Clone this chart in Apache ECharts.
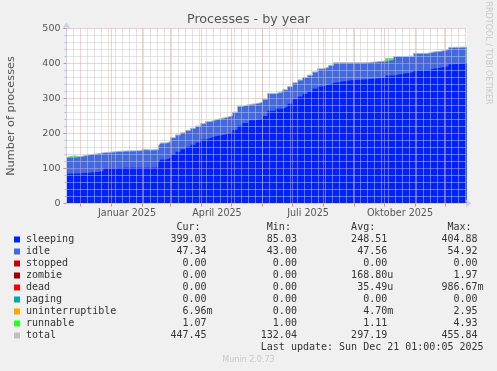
<!DOCTYPE html>
<html><head><meta charset="utf-8">
<script src="https://cdn.jsdelivr.net/npm/echarts@6/dist/echarts.min.js"></script>
<style>html,body{margin:0;padding:0;background:#f0f0f0}#c{width:497px;height:371px}</style>
</head><body><div id="c"></div>
<script>
// day index (x) of each step, and the values that hold from that day on
const days =     [1, 3, 9, 15, 23, 30, 38, 43, 50, 60, 75, 78, 85, 93, 95, 101, 105, 110, 115, 120, 125, 130, 135, 140, 145, 150, 155, 161, 167, 172, 177, 183, 190, 197, 202, 210, 217, 222, 227, 232, 237, 242, 247, 252, 257, 263, 268, 275, 285, 300, 312, 320, 328, 338, 348, 362, 368, 375, 383, 387, 401];
const sleeping = [85, 86, 86, 88, 89, 92, 100, 101, 102, 102, 102, 102, 103, 118, 126, 130, 140, 148, 155, 162, 168, 174, 183, 187, 192, 194, 198, 203, 210, 222, 230, 238, 242, 250, 265, 271, 276, 285, 298, 306, 313, 320, 328, 334, 339, 344, 348, 352, 354, 357, 359, 366, 371, 375, 381, 385, 388, 392, 398, 400, 399.03];
const idle =     [46, 45, 47, 50, 51, 52, 45, 46, 47, 48, 50, 50, 50, 45, 46, 46, 47, 47, 46, 46, 46, 46, 44, 46, 46, 46, 47, 47, 50, 55, 50, 46, 46, 47, 48, 47, 48, 48, 46, 46, 46, 46, 47, 50, 49, 50, 53, 49, 47, 47, 47, 44, 48, 45, 47, 47, 46, 47, 47, 46, 47.34];
const runnable = [1, 4.9, 1, 1, 1, 1, 1, 1, 1, 1, 3, 1, 1, 1, 1, 1, 1, 1, 1, 1, 1, 1, 1, 1, 1, 2.5, 1, 1, 1, 1, 2, 1, 1, 1, 1, 1, 1, 1, 1, 1, 1, 1, 1, 1, 1, 1, 1, 1, 1, 1, 1, 4, 1, 1, 1, 1, 1, 1, 1, 1, 1.07];

// axis ticks / grid (days on x, processes on y)
const monthStarts = [15, 46, 77, 105, 136, 166, 197, 227, 258, 289, 319, 350, 380];
const weekDays = [1, 8, 22, 29, 36, 43, 50, 57, 64, 71, 78, 85, 92, 99, 106, 113, 120, 127, 134, 141, 148, 155, 162, 169, 176, 183, 190, 197, 204, 211, 218, 225, 232, 239, 246, 253, 260, 267, 274, 281, 288, 295, 302, 309, 316, 323, 330, 337, 344, 351, 358, 365, 372, 379, 386, 393, 400];
const labelDays = [61.5, 151.5, 242.5, 334.5];
const labelTexts = ['Januar 2025', 'April 2025', 'Juli 2025', 'Oktober 2025'];
const yMajor = [0, 100, 200, 300, 400, 500];
const yMinor = [20, 40, 60, 80, 120, 140, 160, 180, 220, 240, 260, 280, 320, 340, 360, 380, 420, 440, 460, 480];

// legend table
const legNames = ['sleeping', 'idle', 'stopped', 'zombie', 'dead', 'paging', 'uninterruptible', 'runnable', 'total'];
const legColors = ['#0022ff', '#4169e1', '#cc0000', '#990000', '#ff0000', '#00aaaa', '#ffa500', '#22ff22', '#c0c0c0'];
const curVals = ['399.03', '47.34', '0.00', '0.00', '0.00', '0.00', '6.96m', '1.07', '447.45'];
const minVals = ['85.03', '43.00', '0.00', '0.00', '0.00', '0.00', '0.00', '1.00', '132.04'];
const avgVals = ['248.51', '47.56', '0.00', '168.80u', '35.49u', '0.00', '4.70m', '1.11', '297.19'];
const maxVals = ['404.88', '54.92', '0.00', '1.97', '986.67m', '0.00', '2.95', '4.93', '455.84'];
const lastUpdate = 'Last update: Sun Dec 21 01:00:05 2025';

// cumulative tops of the stack (sleeping, +idle, +runnable)
const topSleeping = days.map((d, i) => [d, sleeping[i]]);
const topIdle = days.map((d, i) => [d, sleeping[i] + idle[i]]);
const topRunnable = days.map((d, i) => [d, sleeping[i] + idle[i] + runnable[i]]);

function fmt(s) {
  const last = s[s.length - 1];
  if (/[a-z]/i.test(last)) return s.slice(0, -1).padStart(6) + last;
  return s.padStart(6) + ' ';
}
const sp = n => ' '.repeat(n);

const sans = 'DejaVu Sans';
const legX = 26;
const rowY0 = 239.5, rowH = 12;
const monoFont = '10px "DejaVu Sans Mono"';

const graphics = [];
graphics.push({type: 'text', x: 248.5, y: 20, style: {text: 'Processes - by year', font: '12.7px "DejaVu Sans"', fill: '#555', align: 'center', verticalAlign: 'middle'}});
graphics.push({type: 'text', x: 488, y: 53, rotation: -Math.PI / 2, style: {text: 'RRDTOOL / TOBI OETIKER', font: '8px "DejaVu Sans"', fill: '#c8c8c8', align: 'center', verticalAlign: 'middle'}});
graphics.push({type: 'text', x: legX, y: rowY0 - rowH, style: {text: sp(25) + 'Cur:' + sp(11) + 'Min:' + sp(10) + 'Avg:' + sp(12) + 'Max:', font: monoFont, fill: '#333', align: 'left', verticalAlign: 'middle'}});
legNames.forEach((n, i) => {
  const y = rowY0 + i * rowH;
  graphics.push({type: 'rect', shape: {x: 14, y: y - 3, width: 6, height: 6}, style: {fill: legColors[i]}});
  const row = n.padEnd(24) + fmt(curVals[i]) + sp(8) + fmt(minVals[i]) + sp(8) + fmt(avgVals[i]) + sp(8) + fmt(maxVals[i]);
  graphics.push({type: 'text', x: legX, y: y, style: {text: row, font: monoFont, fill: '#333', align: 'left', verticalAlign: 'middle'}});
});
graphics.push({type: 'text', x: legX, y: rowY0 + 9 * rowH, style: {text: sp(39) + lastUpdate, font: monoFont, fill: '#333', align: 'left', verticalAlign: 'middle'}});
graphics.push({type: 'text', x: 248.5, y: 360, style: {text: 'Munin 2.0.73', font: '8px "DejaVu Sans"', fill: '#c8c8c8', align: 'center', verticalAlign: 'middle'}});

const redDot = {color: '#eea0a0', width: 1, type: [1, 1]};
const grayDot = {color: '#c8c8c8', width: 1, type: [1, 1]};
const axisCol = '#c8ccf4';

const areaSeries = (name, data, color) => ({
  name, type: 'line', step: 'end', showSymbol: false, data,
  lineStyle: {width: 0}, areaStyle: {color, opacity: 1, origin: 'start'}, itemStyle: {color}, z: 2
});
const gridSeries = (name, xs, ys, style, z) => ({
  name, type: 'line', data: [[1, 0]], showSymbol: false, lineStyle: {width: 0}, silent: true, z,
  markLine: {silent: true, animation: false, symbol: ['none', 'none'], label: {show: false},
    emphasis: {disabled: true}, lineStyle: style,
    data: xs.map(v => ({xAxis: v})).concat(ys.map(v => ({yAxis: v})))}
});

const chart = echarts.init(document.getElementById('c'), null, {renderer: 'canvas'});
chart.setOption({
  animation: false,
  backgroundColor: '#f0f0f0',
  grid: {left: 66.5, top: 28.5, width: 400, height: 175, show: true, backgroundColor: '#ffffff', borderWidth: 0,
         containLabel: false, outerBoundsMode: 'none'},
  xAxis: {type: 'value', min: 1, max: 401, z: 11,
     axisLine: {show: true, onZero: false, lineStyle: {color: axisCol, width: 1}, symbol: ['none', 'arrow'], symbolSize: [6, 6], symbolOffset: [0, 5]},
     axisTick: {show: true, customValues: monthStarts, length: 3, lineStyle: {color: '#ea8080'}},
     splitLine: {show: false},
     axisLabel: {show: true, customValues: labelDays, margin: 5, color: '#555', fontFamily: sans, fontSize: 9.6,
       formatter: v => { const i = labelDays.indexOf(v); return i >= 0 ? labelTexts[i] : ''; }}},
  yAxis: {type: 'value', min: 0, max: 500, interval: 100, z: 11,
    name: 'Number of processes', nameLocation: 'middle', nameGap: 50, nameRotate: 90,
    nameTextStyle: {color: '#555', fontFamily: sans, fontSize: 11.3},
    axisLine: {show: true, lineStyle: {color: axisCol, width: 1}, symbol: ['none', 'arrow'], symbolSize: [6, 6], symbolOffset: [0, 6]},
    axisTick: {show: true, length: 3, lineStyle: {color: '#ea8080'}},
    minorTick: {show: true, splitNumber: 5, length: 2, lineStyle: {color: '#bbbbbb'}},
    axisLabel: {color: '#555', fontFamily: sans, fontSize: 9.5, margin: 6},
    splitLine: {show: false}, minorSplitLine: {show: false}},
  graphic: graphics,
  series: [
    areaSeries('runnable', topRunnable, '#22ff22'),
    areaSeries('idle', topIdle, '#4169e1'),
    areaSeries('sleeping', topSleeping, '#0022ff'),
    {name: 'total', type: 'line', step: 'end', showSymbol: false, data: topRunnable,
     lineStyle: {width: 1, color: '#b4b4b4'}, itemStyle: {color: '#b4b4b4'}, z: 3},
    gridSeries('minorGrid', weekDays, yMinor, grayDot, 5),
    gridSeries('majorGrid', monthStarts, yMajor, redDot, 6)
  ]
});
</script></body></html>
